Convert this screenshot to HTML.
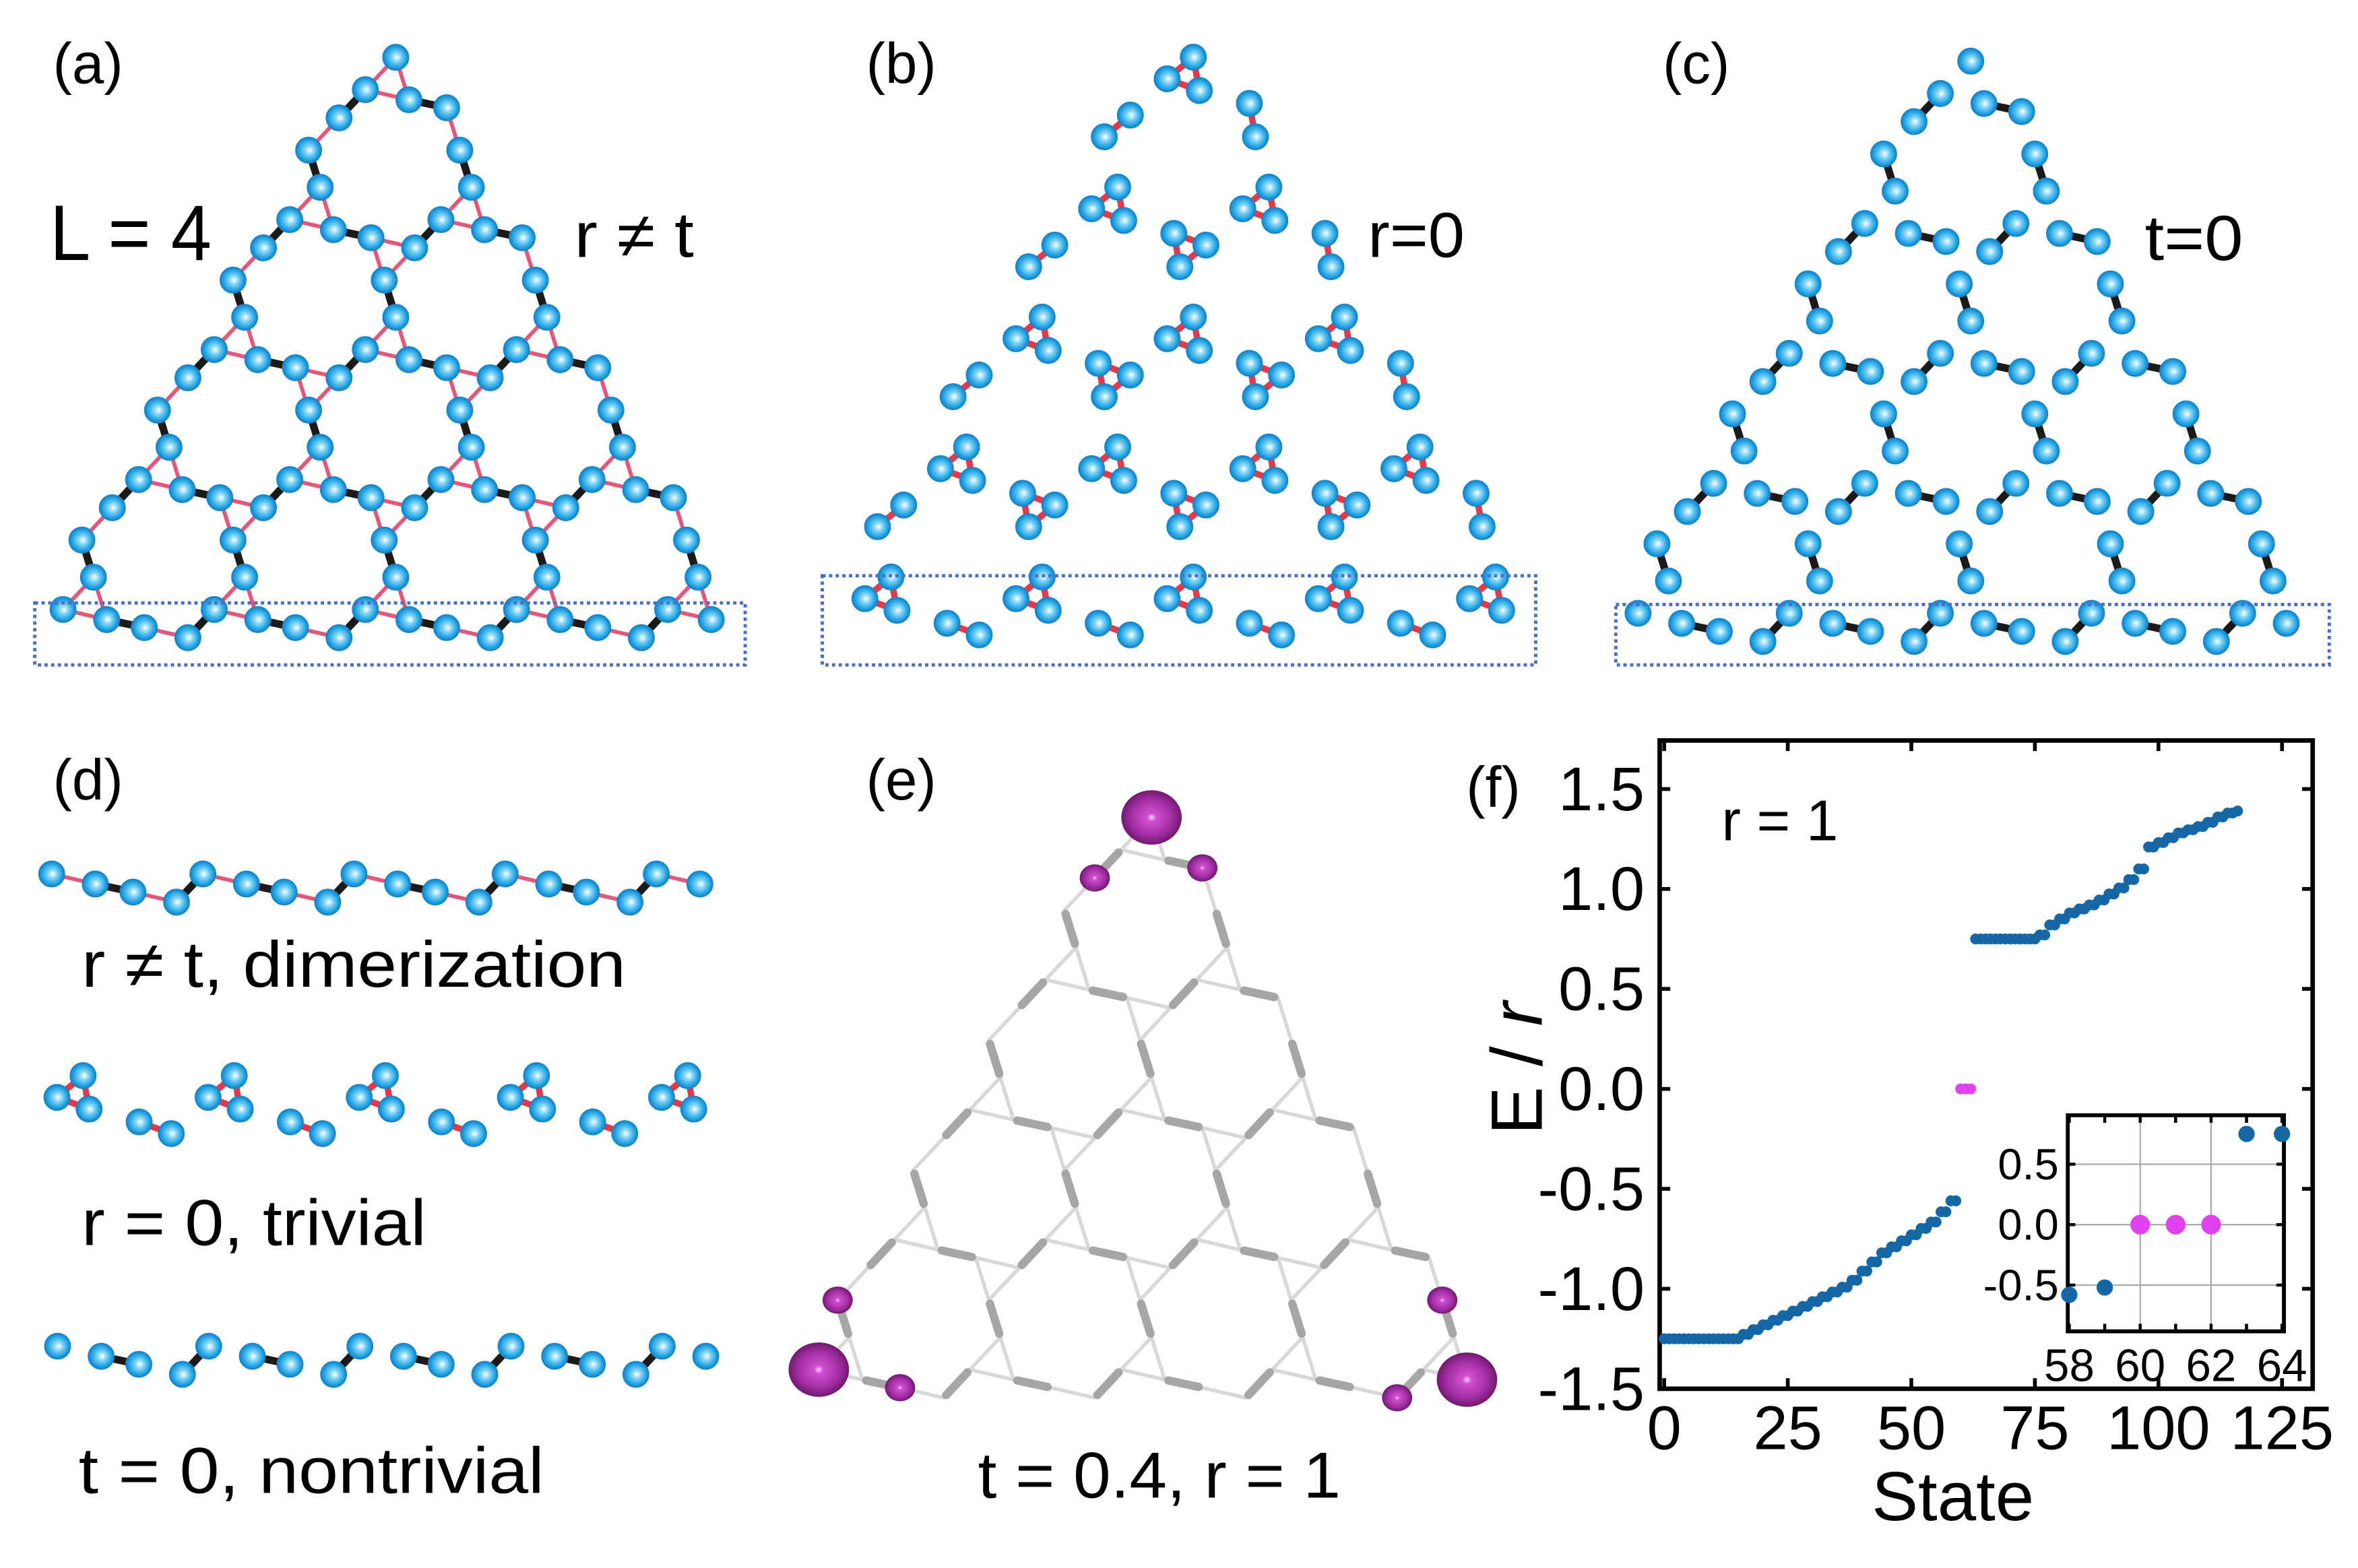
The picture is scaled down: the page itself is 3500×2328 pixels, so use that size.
<!DOCTYPE html>
<html><head><meta charset="utf-8">
<style>
html,body{margin:0;padding:0;background:#fff;}
svg{display:block;}
text{font-family:"Liberation Sans",sans-serif;fill:#000;}
</style></head>
<body>
<svg id="s" xmlns="http://www.w3.org/2000/svg" width="3500" height="2328" viewBox="0 0 1560 1037.6">
<defs>
<radialGradient id="ga" cx="50%" cy="50%" r="50%" fx="55%" fy="50%">
<stop offset="0" stop-color="#ffffff"/>
<stop offset="0.35" stop-color="#7fd3f7"/>
<stop offset="0.75" stop-color="#26a6e4"/>
<stop offset="1" stop-color="#137ec4"/>
</radialGradient>
<radialGradient id="gp" cx="50%" cy="50%" r="50%">
<stop offset="0" stop-color="#ffd0ff"/>
<stop offset="0.15" stop-color="#d050d0"/>
<stop offset="0.7" stop-color="#a02ca0"/>
<stop offset="1" stop-color="#6e1a6e"/>
</radialGradient>
</defs>
<rect width="1560" height="1037.6" fill="#fff"/>
<g id="content"></g>

<text x="35" y="55" font-size="38">(a)</text>
<text x="33" y="172" font-size="52" textLength="107" lengthAdjust="spacingAndGlyphs">L = 4</text>
<text x="380" y="170" font-size="42" textLength="79" lengthAdjust="spacingAndGlyphs">r ≠ t</text>
<text x="573" y="55" font-size="38">(b)</text>
<text x="905" y="170" font-size="42" textLength="64" lengthAdjust="spacingAndGlyphs">r=0</text>
<text x="1100" y="55" font-size="38">(c)</text>
<text x="1419" y="172" font-size="42" textLength="65" lengthAdjust="spacingAndGlyphs">t=0</text>
<text x="35" y="529" font-size="38">(d)</text>
<text x="54" y="653" font-size="43" textLength="360" lengthAdjust="spacingAndGlyphs">r ≠ t, dimerization</text>
<text x="54" y="824" font-size="43" textLength="228" lengthAdjust="spacingAndGlyphs">r = 0, trivial</text>
<text x="52" y="988" font-size="43" textLength="308" lengthAdjust="spacingAndGlyphs">t = 0, nontrivial</text>
<text x="573" y="529" font-size="38">(e)</text>
<text x="647" y="991" font-size="43" textLength="240" lengthAdjust="spacingAndGlyphs">t = 0.4, r = 1</text>
<text x="970" y="534" font-size="38">(f)</text>
<text x="1139" y="556" font-size="38">r = 1</text>
<text x="1292" y="1006" font-size="46" text-anchor="middle">State</text>
<text transform="translate(1020,707) rotate(-90)" font-size="48" text-anchor="middle">E / <tspan font-style="italic">r</tspan></text>
</svg>
<script>
(function(){
var w=100,h=86,a=57.7;
var out=[];
function latt(o){
  var S={};
  function add(k,t,i,j){S[k]={t:t,i:i,j:j,x:o.ox+w*(j-i/2),y:o.oy+h*i-(t=='B'?a:0),nb:[]};}
  var i,j;
  for(i=0;i<=4;i++)for(j=0;j<=i;j++)add('A'+i+'_'+j,'A',i,j);
  for(i=1;i<=5;i++){var j0=i<5?0:1,j1=i<5?i:4;for(j=j0;j<=j1;j++)add('B'+i+'_'+j,'B',i,j);}
  var edges=[];
  for(var k in S){var s=S[k];if(s.t!='A')continue;
    [['B',s.i,s.j],['B',s.i+1,s.j],['B',s.i+1,s.j+1]].forEach(function(b){
      var bk='B'+b[1]+'_'+b[2]; if(S[bk]){edges.push([k,bk]);s.nb.push({x:S[bk].x,y:S[bk].y,k:bk});S[bk].nb.push({x:s.x,y:s.y,k:k});}
    });
  }
  S['A0_0'].nb.push({x:o.ox,y:o.oy-a,k:'v0'});
  S['A4_0'].nb.push({x:o.ox-2.5*w,y:o.oy+5*h-a,k:'v1'});
  S['A4_4'].nb.push({x:o.ox+2.5*w,y:o.oy+5*h-a,k:'v2'});
  var rot=(o.rot||0)*Math.PI/180,c=Math.cos(rot),sn=Math.sin(rot);
  var atom={};
  var skip=o.skip||function(){return false;};
  for(var k2 in S){var s2=S[k2];s2.atoms=[];
    s2.nb.forEach(function(n){if(skip(s2,n.k))return;var dx=n.x-s2.x,dy=n.y-s2.y,L=Math.hypot(dx,dy);dx/=L;dy/=L;
      var rx=dx*c-dy*sn,ry=dx*sn+dy*c;var p={x:s2.x+o.d*rx,y:s2.y+o.d*ry};s2.atoms.push(p);atom[k2+'>'+n.k]=p;});
  }
  var f=o.filter||function(){return true;};
  var tx=o.tx||0,ty=o.ty||0;
  var g=[];
  if(o.intra){for(var k3 in S){var s3=S[k3];if(!f(s3))continue;var A=s3.atoms;
    for(var m=0;m<A.length;m++)for(var n2=m+1;n2<A.length;n2++)g.push('<line x1="'+(A[m].x+tx)+'" y1="'+(A[m].y+ty)+'" x2="'+(A[n2].x+tx)+'" y2="'+(A[n2].y+ty)+'" stroke="'+o.intra.c+'" stroke-width="'+o.intra.w+'" stroke-linecap="round"/>');}}
  if(o.inter){edges.forEach(function(e){if(!f(S[e[0]])||!f(S[e[1]]))return;var p=atom[e[0]+'>'+e[1]],q=atom[e[1]+'>'+e[0]];
    if(!p||!q)return;
    var sh=o.inter.sh||0,dx=q.x-p.x,dy=q.y-p.y,L=Math.hypot(dx,dy);dx/=L;dy/=L;
    if(o.inter.thin)g.push('<line x1="'+(p.x+tx)+'" y1="'+(p.y+ty)+'" x2="'+(q.x+tx)+'" y2="'+(q.y+ty)+'" stroke="'+o.inter.thin+'" stroke-width="2.4"/>');
    g.push('<line x1="'+(p.x+dx*sh+tx)+'" y1="'+(p.y+dy*sh+ty)+'" x2="'+(q.x-dx*sh+tx)+'" y2="'+(q.y-dy*sh+ty)+'" stroke="'+o.inter.c+'" stroke-width="'+o.inter.w+'" stroke-linecap="'+(o.inter.cap||'butt')+'"/>');});}
  if(o.atoms){for(var k4 in S){var s4=S[k4];if(!f(s4))continue;s4.atoms.forEach(function(p){g.push('<circle cx="'+(p.x+tx).toFixed(2)+'" cy="'+(p.y+ty).toFixed(2)+'" r="'+o.atoms+'" fill="url(#ga)" stroke="#1a86c8" stroke-width="0.6"/>');});}}
  out.push(g.join(''));
  return {S:S,atom:atom};
}
var red={c:'#e2587a',w:2.6},blk={c:'#1c1a18',w:5};
var R=13;
latt({ox:258,oy:54.5,d:17,rot:R,intra:red,inter:blk,atoms:8.6});
out.push('<rect x="23" y="399" width="470" height="41" fill="none" stroke="#4a6fc4" stroke-width="2.2" stroke-dasharray="2.2 2.2"/>');
latt({ox:785,oy:50,d:13,rot:20,intra:{c:'#e23a4c',w:4.2},atoms:8.6});
out.push('<rect x="544" y="381" width="472" height="59" fill="none" stroke="#4a6fc4" stroke-width="2.2" stroke-dasharray="2.2 2.2"/>');
latt({ox:1300,oy:57,d:17,rot:R,inter:blk,atoms:8.6});
out.push('<rect x="1069" y="400" width="472" height="40" fill="none" stroke="#4a6fc4" stroke-width="2.2" stroke-dasharray="2.2 2.2"/>');
var rowf=function(s){return (s.t=='A'&&s.i==4)||(s.t=='B'&&s.i==5);};
var upSkip=function(s,nk){return s.t=='A'&&s.i==4&&nk==('B4_'+s.j);};
latt({ox:258,oy:54.5,d:17,rot:R,intra:red,inter:blk,atoms:8.6,filter:rowf,skip:upSkip,tx:-7.5,ty:175});
latt({ox:785,oy:50,d:13,rot:20,intra:{c:'#e23a4c',w:4.2},atoms:8.6,filter:rowf,tx:-534.5,ty:330});
latt({ox:1300,oy:57,d:17,rot:R,inter:blk,atoms:8.6,filter:rowf,skip:upSkip,tx:-1045.6,ty:485});
var E=latt({ox:758,oy:557.5,d:17,rot:R,intra:{c:'#d8d8d8',w:2.4},inter:{c:'#a6a6a6',w:5.5,sh:2.5,cap:'round',thin:'#d8d8d8'}});
function sph(p,r,ry){out.push('<ellipse cx="'+p.x+'" cy="'+p.y+'" rx="'+r+'" ry="'+(ry||r)+'" fill="url(#gp)"/>');}
var at=E.atom;
sph(at['A0_0>v0'],20,18);sph(at['B1_0>A0_0'],10,9);sph(at['B1_1>A0_0'],10,9);
sph(at['A4_0>v1'],20,18);sph(at['B4_0>A4_0'],10,9);sph(at['B5_1>A4_0'],10,9);
sph(at['A4_4>v2'],20,18);sph(at['B4_4>A4_4'],10,9);sph(at['B5_4>A4_4'],10,9);
var X=function(n){return 1101+3.27*n;},Y=function(v){return 919-(v+1.5)*132.3;};
var g=[];
g.push('<rect x="1098" y="490" width="432" height="429" fill="none" stroke="#000" stroke-width="3"/>');
[-1.5,-1,-0.5,0,0.5,1,1.5].forEach(function(v){var y=Y(v);
 g.push('<line x1="1098" y1="'+y+'" x2="1105" y2="'+y+'" stroke="#000" stroke-width="2.5"/><line x1="1523" y1="'+y+'" x2="1530" y2="'+y+'" stroke="#000" stroke-width="2.5"/>');
 g.push('<text x="1088" y="'+(y+14)+'" font-size="41" text-anchor="end">'+(v<0?'-':'')+Math.abs(v).toFixed(1)+'</text>');});
[0,25,50,75,100,125].forEach(function(n){var x=X(n);
 g.push('<line x1="'+x+'" y1="912" x2="'+x+'" y2="919" stroke="#000" stroke-width="2.5"/><line x1="'+x+'" y1="490" x2="'+x+'" y2="497" stroke="#000" stroke-width="2.5"/>');
 g.push('<text x="'+x+'" y="959" font-size="41" text-anchor="middle">'+n+'</text>');});
function interp(k,n){for(var i=0;i<k.length-1;i++){if(n<=k[i+1][0]){var t=(n-k[i][0])/(k[i+1][0]-k[i][0]);return k[i][1]+t*(k[i+1][1]-k[i][1]);}}return k[k.length-1][1];}
var lo=[[0,-1.25],[14,-1.25],[15,-1.24],[20,-1.18],[27,-1.10],[37,-0.98],[44,-0.82],[50,-0.73],[55,-0.65],[57,-0.58],[59,-0.54]];
var hi=[[63,0.75],[75,0.75],[78,0.78],[79,0.82],[83,0.88],[88,0.93],[94,1.02],[97,1.1],[98,1.2],[100,1.22],[105,1.28],[110,1.32],[113,1.36],[116,1.39]];
for(var n=0;n<=116;n++){var v,col='#1567a6';
 if(n<=59)v=interp(lo,n<14?n:2*Math.floor(n/2));else if(n<=62){v=0;col='#e040f0';}else v=interp(hi,n<75?n:2*Math.floor(n/2)+1);
 g.push('<circle cx="'+X(n).toFixed(2)+'" cy="'+Y(v).toFixed(2)+'" r="3.6" fill="'+col+'"/>');}
var x0=1368,x1=1511,y0=738,y1=881;
var IX=function(n){return 1369+23.45*(n-58);},IY=function(v){return 810.4-v*80;};
g.push('<rect x="'+x0+'" y="'+y0+'" width="'+(x1-x0)+'" height="'+(y1-y0)+'" fill="#fff"/>');
[60,62].forEach(function(n){g.push('<line x1="'+IX(n)+'" y1="'+y0+'" x2="'+IX(n)+'" y2="'+y1+'" stroke="#aaa" stroke-width="1"/>');});
[-0.5,0,0.5].forEach(function(v){g.push('<line x1="'+x0+'" y1="'+IY(v)+'" x2="'+x1+'" y2="'+IY(v)+'" stroke="#aaa" stroke-width="1"/>');
 g.push('<line x1="'+x0+'" y1="'+IY(v)+'" x2="'+(x0+5)+'" y2="'+IY(v)+'" stroke="#000" stroke-width="2"/><line x1="'+(x1-5)+'" y1="'+IY(v)+'" x2="'+x1+'" y2="'+IY(v)+'" stroke="#000" stroke-width="2"/>');
 g.push('<text x="1362" y="'+(IY(v)+10)+'" font-size="29" text-anchor="end">'+(v<0?'-':'')+Math.abs(v).toFixed(1)+'</text>');});
[58,59,60,61,62,63,64].forEach(function(n){var x=IX(n);g.push('<line x1="'+x+'" y1="'+(y1-5)+'" x2="'+x+'" y2="'+y1+'" stroke="#000" stroke-width="2"/><line x1="'+x+'" y1="'+y0+'" x2="'+x+'" y2="'+(y0+5)+'" stroke="#000" stroke-width="2"/>');
 if(n%2==0)g.push('<text x="'+x+'" y="914" font-size="30" text-anchor="middle">'+n+'</text>');});
g.push('<rect x="'+x0+'" y="'+y0+'" width="'+(x1-x0)+'" height="'+(y1-y0)+'" fill="none" stroke="#000" stroke-width="2.6"/>');
[[58,-0.58],[59,-0.52],[63,0.75],[64,0.75]].forEach(function(p){g.push('<circle cx="'+IX(p[0])+'" cy="'+IY(p[1])+'" r="5.4" fill="#1567a6"/>');});
[60,61,62].forEach(function(n){g.push('<circle cx="'+IX(n)+'" cy="'+IY(0)+'" r="6.5" fill="#e040f0"/>');});
out.push(g.join(''));
document.getElementById('content').innerHTML=out.join('');
})();
</script>
</body></html>
